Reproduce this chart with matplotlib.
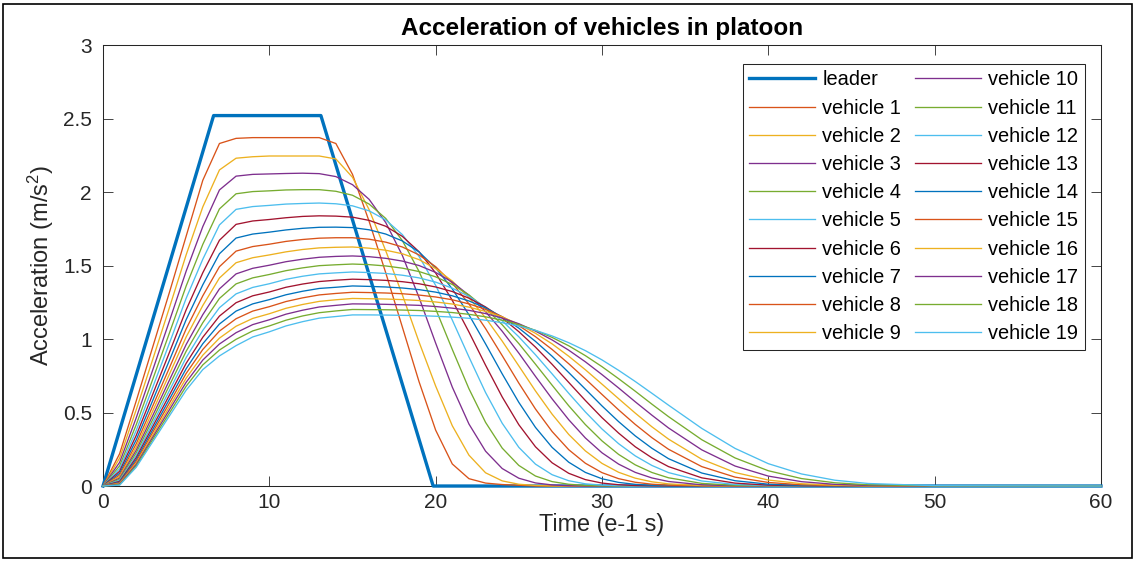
import matplotlib
matplotlib.use("Agg")
import matplotlib.pyplot as plt
from matplotlib.patches import Rectangle

plt.rcParams['font.family'] = ['Liberation Sans', 'DejaVu Sans']
plt.rcParams['mathtext.fontset'] = 'custom'
plt.rcParams['mathtext.rm'] = 'Liberation Sans'
plt.rcParams['mathtext.default'] = 'regular'

# sample times (e-1 s) shared by all followers
t = [0, 1, 2, 3, 4, 5, 6, 7, 8, 9, 10, 11, 12, 13, 14, 15, 16, 17, 18, 19,
     20, 21, 22, 23, 24, 25, 26, 27, 28, 29, 30, 31, 32, 33, 34,
     36, 38, 40, 42, 44, 46, 50, 60]

# leader: trapezoidal acceleration profile
leader_t = [0, 6.65, 13.1, 19.85, 60]
leader_acc = [0, 2.52, 2.52, 0, 0]

# follower accelerations (m/s^2) at the times in t
v1 = [0, 0.22, 0.58, 0.95, 1.32, 1.70, 2.08, 2.33, 2.365, 2.37,
      2.37, 2.37, 2.37, 2.37, 2.33, 2.12, 1.80, 1.45, 1.08, 0.71,
      0.38, 0.15, 0.05, 0.02, 0.01, 0.005, 0, 0, 0, 0,
      0, 0, 0, 0, 0,
      0, 0, 0, 0, 0, 0, 0, 0]
v2 = [0, 0.19, 0.52, 0.865, 1.216, 1.573, 1.899, 2.15, 2.23, 2.24,
      2.245, 2.245, 2.245, 2.245, 2.225, 2.10, 1.88, 1.60, 1.30, 0.98,
      0.68, 0.41, 0.21, 0.09, 0.035, 0.012, 0.004, 0, 0, 0,
      0, 0, 0, 0, 0,
      0, 0, 0, 0, 0, 0, 0, 0]
v3 = [0, 0.161, 0.465, 0.793, 1.125, 1.462, 1.765, 2.014, 2.108, 2.12,
      2.123, 2.126, 2.128, 2.125, 2.105, 2.05, 1.95, 1.792, 1.568, 1.283,
      0.972, 0.673, 0.422, 0.237, 0.119, 0.053, 0.021, 0.0075, 0.002, 0,
      0, 0, 0, 0, 0,
      0, 0, 0, 0, 0, 0, 0, 0]
v4 = [0, 0.137, 0.418, 0.729, 1.043, 1.361, 1.644, 1.885, 1.988, 2.003,
      2.008, 2.014, 2.016, 2.016, 2.005, 1.978, 1.918, 1.82, 1.669, 1.46,
      1.205, 0.929, 0.662, 0.433, 0.258, 0.14, 0.068, 0.03, 0.012, 0.004,
      0.0014, 0, 0, 0, 0,
      0, 0, 0, 0, 0, 0, 0, 0]
v5 = [0, 0.118, 0.379, 0.675, 0.974, 1.277, 1.543, 1.776, 1.882, 1.901,
      1.909, 1.918, 1.922, 1.925, 1.92, 1.906, 1.872, 1.81, 1.71, 1.562,
      1.365, 1.129, 0.878, 0.636, 0.427, 0.263, 0.149, 0.077, 0.036, 0.015,
      0.006, 0.002, 0, 0, 0,
      0, 0, 0, 0, 0, 0, 0, 0]
v6 = [0, 0.101, 0.345, 0.627, 0.911, 1.199, 1.451, 1.672, 1.78, 1.803,
      1.813, 1.825, 1.834, 1.838, 1.836, 1.829, 1.807, 1.767, 1.698, 1.594,
      1.449, 1.263, 1.048, 0.822, 0.606, 0.417, 0.267, 0.158, 0.0865, 0.0436,
      0.02, 0.0087, 0.0033, 0.001, 0,
      0, 0, 0, 0, 0, 0, 0, 0]
v7 = [0, 0.087, 0.315, 0.585, 0.857, 1.132, 1.369, 1.58, 1.687, 1.714,
      1.727, 1.742, 1.753, 1.76, 1.761, 1.758, 1.743, 1.714, 1.667, 1.592,
      1.484, 1.341, 1.165, 0.967, 0.763, 0.569, 0.399, 0.263, 0.162, 0.0926,
      0.0494, 0.0246, 0.0113, 0.0048, 0.0018,
      0.0003, 0, 0, 0, 0, 0, 0, 0]
v8 = [0, 0.0745, 0.288, 0.547, 0.806, 1.069, 1.294, 1.492, 1.598, 1.629,
      1.645, 1.664, 1.677, 1.686, 1.689, 1.689, 1.679, 1.659, 1.626, 1.572,
      1.492, 1.38, 1.239, 1.071, 0.887, 0.70, 0.524, 0.371, 0.247, 0.155,
      0.091, 0.05, 0.0256, 0.0124, 0.0056,
      0.0008, 0, 0, 0, 0, 0, 0, 0]
v9 = [0, 0.064, 0.265, 0.513, 0.763, 1.014, 1.228, 1.415, 1.519, 1.553,
      1.572, 1.593, 1.609, 1.62, 1.624, 1.626, 1.618, 1.604, 1.58, 1.54,
      1.479, 1.394, 1.282, 1.144, 0.986, 0.817, 0.647, 0.489, 0.351, 0.239,
      0.154, 0.0934, 0.0534, 0.0287, 0.0145,
      0.0031, 0.0005, 0, 0, 0, 0, 0, 0]
v10 = [0, 0.054, 0.244, 0.482, 0.722, 0.963, 1.166, 1.341, 1.443, 1.481,
       1.502, 1.526, 1.543, 1.556, 1.562, 1.565, 1.56, 1.549, 1.53, 1.50,
       1.453, 1.387, 1.298, 1.186, 1.053, 0.904, 0.746, 0.593, 0.451, 0.327,
       0.226, 0.149, 0.0928, 0.055, 0.0308,
       0.0082, 0.0017, 0.0003, 0, 0, 0, 0, 0]
v11 = [0, 0.046, 0.226, 0.455, 0.686, 0.917, 1.111, 1.276, 1.375, 1.416,
       1.439, 1.465, 1.484, 1.499, 1.505, 1.51, 1.506, 1.497, 1.482, 1.459,
       1.423, 1.371, 1.30, 1.208, 1.097, 0.969, 0.829, 0.686, 0.546, 0.418,
       0.307, 0.215, 0.144, 0.0921, 0.056,
       0.0179, 0.0047, 0.0011, 0, 0, 0, 0, 0]
v12 = [0, 0.039, 0.209, 0.43, 0.651, 0.874, 1.059, 1.213, 1.307, 1.351,
       1.376, 1.406, 1.427, 1.443, 1.45, 1.456, 1.452, 1.446, 1.434, 1.416,
       1.387, 1.346, 1.29, 1.216, 1.124, 1.015, 0.893, 0.763, 0.631, 0.504,
       0.388, 0.288, 0.205, 0.14, 0.0913,
       0.0342, 0.0107, 0.0028, 0.0006, 0, 0, 0, 0]
v13 = [0, 0.032, 0.194, 0.407, 0.62, 0.835, 1.012, 1.156, 1.247, 1.294,
       1.32, 1.352, 1.374, 1.391, 1.40, 1.407, 1.404, 1.399, 1.39, 1.376,
       1.354, 1.323, 1.278, 1.218, 1.143, 1.05, 0.945, 0.828, 0.705, 0.582,
       0.465, 0.36, 0.267, 0.192, 0.132,
       0.0556, 0.0197, 0.0059, 0.0014, 0.0003, 0, 0, 0]
v14 = [0, 0.026, 0.18, 0.386, 0.592, 0.798, 0.968, 1.102, 1.19, 1.239,
       1.268, 1.301, 1.325, 1.344, 1.352, 1.361, 1.358, 1.354, 1.347, 1.336,
       1.319, 1.294, 1.259, 1.212, 1.15, 1.074, 0.984, 0.883, 0.772, 0.659,
       0.545, 0.438, 0.341, 0.257, 0.186,
       0.0883, 0.036, 0.0125, 0.0037, 0.001, 0.0002, 0, 0]
v15 = [0, 0.0215, 0.168, 0.367, 0.566, 0.766, 0.929, 1.054, 1.138, 1.19,
       1.22, 1.255, 1.28, 1.30, 1.31, 1.318, 1.316, 1.313, 1.308, 1.299,
       1.286, 1.267, 1.239, 1.202, 1.152, 1.091, 1.016, 0.929, 0.832, 0.729,
       0.623, 0.518, 0.419, 0.329, 0.25,
       0.132, 0.0605, 0.0242, 0.0083, 0.0025, 0.0007, 0, 0]
v16 = [0, 0.0167, 0.156, 0.348, 0.541, 0.734, 0.89, 1.006, 1.087, 1.14,
       1.172, 1.209, 1.235, 1.256, 1.267, 1.276, 1.274, 1.272, 1.268, 1.262,
       1.252, 1.238, 1.217, 1.188, 1.15, 1.10, 1.039, 0.967, 0.883, 0.791,
       0.693, 0.594, 0.496, 0.403, 0.319,
       0.182, 0.092, 0.0407, 0.0158, 0.0054, 0.0015, 0.0001, 0]
v17 = [0, 0.013, 0.147, 0.333, 0.52, 0.706, 0.857, 0.966, 1.043, 1.098,
       1.131, 1.169, 1.196, 1.218, 1.229, 1.239, 1.238, 1.236, 1.233, 1.229,
       1.221, 1.21, 1.195, 1.173, 1.143, 1.104, 1.054, 0.994, 0.924, 0.845,
       0.758, 0.667, 0.573, 0.482, 0.395,
       0.246, 0.136, 0.0675, 0.0295, 0.0114, 0.0038, 0.0002, 0]
v18 = [0, 0.0091, 0.137, 0.318, 0.498, 0.679, 0.824, 0.925, 0.998, 1.055,
       1.089, 1.128, 1.157, 1.179, 1.191, 1.201, 1.20, 1.199, 1.197, 1.194,
       1.188, 1.18, 1.168, 1.151, 1.128, 1.098, 1.059, 1.011, 0.954, 0.887,
       0.812, 0.73, 0.645, 0.557, 0.472,
       0.315, 0.191, 0.104, 0.0506, 0.022, 0.0084, 0.0008, 0]
v19 = [0, 0.006, 0.128, 0.303, 0.478, 0.652, 0.792, 0.885, 0.955, 1.014,
       1.049, 1.089, 1.118, 1.142, 1.153, 1.164, 1.164, 1.163, 1.161, 1.159,
       1.155, 1.149, 1.141, 1.128, 1.111, 1.089, 1.059, 1.021, 0.975, 0.921,
       0.858, 0.787, 0.711, 0.631, 0.55,
       0.392, 0.256, 0.152, 0.082, 0.0396, 0.0172, 0.0023, 0]

followers = [v1, v2, v3, v4, v5, v6, v7, v8, v9, v10,
             v11, v12, v13, v14, v15, v16, v17, v18, v19]

# default MATLAB line colour order
LINE_COLORS = ['#0072BD', '#D95319', '#EDB120', '#7E2F8E',
               '#77AC30', '#4DBEEE', '#A2142F']
AX_COLOR = '#262626'

fig = plt.figure(figsize=(11.37, 5.62), dpi=100)
ax = fig.add_axes([0.0906, 0.1352, 0.8777, 0.7847])

ax.plot(leader_t, leader_acc, color=LINE_COLORS[0], linewidth=2.4,
        label='leader', clip_on=False, zorder=3)
for i, acc in enumerate(followers, start=1):
    assert len(acc) == len(t), i
    ax.plot(t, acc, color=LINE_COLORS[i % len(LINE_COLORS)], linewidth=0.95,
            label=f'vehicle {i}', clip_on=False, zorder=3)

ax.set_xlim(0, 60)
ax.set_ylim(0, 3)
ax.set_xticks(range(0, 61, 10))
ax.set_yticks([0, 0.5, 1, 1.5, 2, 2.5, 3])
ax.set_yticklabels(['0', '0.5', '1', '1.5', '2', '2.5', '3'])
ax.tick_params(direction='in', length=7.2, width=0.6, top=True, right=True,
               labelsize=15, colors=AX_COLOR)
ax.tick_params(axis='x', pad=5)
ax.tick_params(axis='y', pad=8)
for spine in ax.spines.values():
    spine.set_color(AX_COLOR)
    spine.set_linewidth(0.75)

ax.set_title('Acceleration of vehicles in platoon', fontsize=17.5,
             fontweight='bold', pad=7)
ax.set_xlabel('Time (e-1 s)', fontsize=16.8, color=AX_COLOR, labelpad=1)
ax.set_ylabel('Acceleration (m/s$^2$)', fontsize=17, color=AX_COLOR,
              labelpad=5)

leg = ax.legend(loc='upper right', bbox_to_anchor=(0.984, 0.957), ncol=2,
                fontsize=14.4, frameon=True, fancybox=False,
                edgecolor=AX_COLOR, framealpha=1, handlelength=3.3,
                handletextpad=0.35, columnspacing=0.7, labelspacing=0.46,
                borderpad=0.32, borderaxespad=0)
leg.get_frame().set_linewidth(0.75)

# thin frame around the whole figure
fig.add_artist(Rectangle((0.003, 0.007), 0.993, 0.986, transform=fig.transFigure,
                         fill=False, edgecolor='black', linewidth=1.2))

fig.savefig('out.png', dpi=100)
